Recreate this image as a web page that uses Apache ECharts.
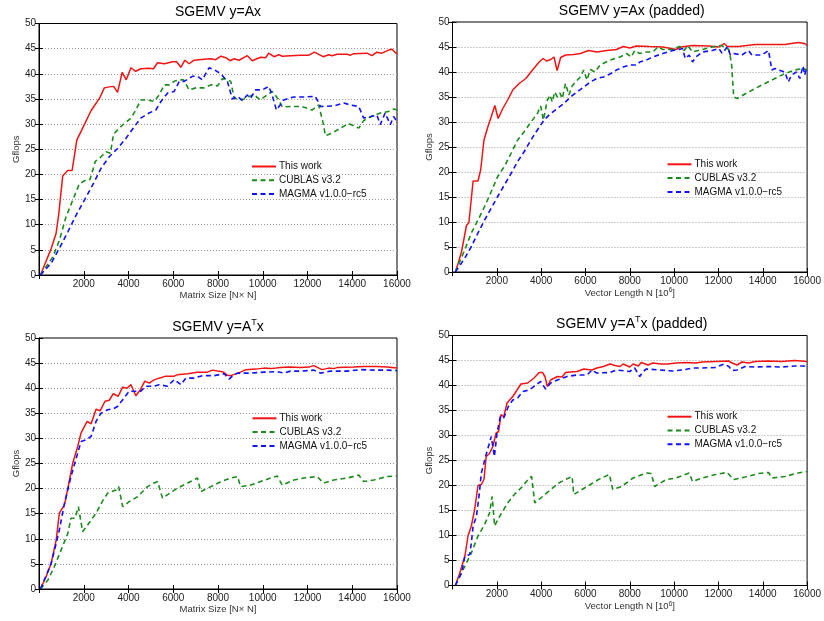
<!DOCTYPE html>
<html>
<head>
<meta charset="utf-8">
<script src="https://cdn.jsdelivr.net/npm/echarts@6/dist/echarts.min.js"></script>
<style>
html,body{margin:0;padding:0;background:#fff;}
#c{width:824px;height:621px;}
</style>
</head>
<body>
<div id="c"></div>
<script>
// ---------- DATA ----------
const seriesNames = ['This work', 'CUBLAS v3.2', 'MAGMA v1.0.0\u2212rc5'];
const xTicks = [0, 2000, 4000, 6000, 8000, 10000, 12000, 14000, 16000];
const yTicks = [0, 5, 10, 15, 20, 25, 30, 35, 40, 45, 50];

// Panel 1: SGEMV y=Ax
const ax_this = [[64,0],[540,5.2],[760,8.2],[880,12],[1060,19.7],[1280,20.8],[1480,20.8],[1690,26.8],[1950,29.2],[2330,32.7],[2700,35.1],[2920,37.2],[3140,37.4],[3340,37.5],[3510,36.3],[3720,40.3],[3900,38.8],[4110,41.2],[4320,40.5],[4550,41],[4920,41.1],[5120,41],[5300,42.2],[5600,42],[5970,42.4],[6150,42.4],[6340,41.3],[6520,42.7],[6710,42],[6930,42.7],[7380,42.9],[7680,43],[7900,42.8],[8130,43.5],[8350,43.2],[8540,42.6],[8720,43],[8940,42.7],[9310,43.6],[9530,42.6],[9900,43.3],[10130,43.2],[10270,44.1],[10500,43.4],[10720,43.8],[10870,43.5],[11240,43.6],[11690,43.7],[12060,43.7],[12310,44.3],[12700,43.4],[12950,43.8],[13100,43.6],[13320,43.9],[13770,43.9],[13920,43.7],[14070,44],[14660,44.1],[14880,43.6],[15100,44.3],[15330,44.1],[15670,44.8],[15780,44.9],[16000,43.9]];
const ax_cublas = [[64,0],[620,3.6],[910,6.9],[1210,11.6],[1510,14.9],[1800,18.1],[2100,18.9],[2280,19],[2520,22.6],[2770,23.5],[3000,24.5],[3190,24.2],[3330,28],[3590,29.2],[3810,30.1],[4110,31.2],[4330,32.8],[4550,34.8],[4850,34.8],[5150,34.5],[5370,35.8],[5600,37.8],[5820,37.8],[6040,38.5],[6270,38.8],[6460,38.8],[6710,36.8],[7010,37.2],[7380,37.2],[7680,37.8],[7980,37.6],[8200,39],[8350,39],[8570,38.5],[8720,35.2],[8940,34.8],[9160,35],[9380,35.5],[9610,35.8],[9900,34.8],[10200,35.8],[10420,36.5],[10720,34.8],[10870,33.4],[11240,33.5],[11760,33.5],[12200,32.8],[12500,33.8],[12700,30.2],[12800,27.7],[13100,28.2],[13470,29.2],[13840,30.1],[14290,29.2],[14510,30.7],[14810,31.4],[15250,32.2],[15620,32.5],[15850,33],[16000,32.8]];
const ax_magma = [[64,0],[540,2.3],[910,5.3],[1290,8.6],[1660,11.9],[2030,14.9],[2400,17.9],[2770,21.2],[3140,23.5],[3520,25.2],[3890,27.2],[4260,29.5],[4550,31.2],[4920,32.2],[5220,32.8],[5450,34.5],[5750,36.2],[6040,36.5],[6270,38.5],[6490,38.5],[6860,39.5],[7090,39.5],[7300,38.8],[7600,41.2],[7830,40.8],[8130,40],[8420,38.5],[8640,35],[8860,35.5],[9090,34.7],[9310,35.8],[9460,35.2],[9680,36.8],[9980,36.8],[10270,37.5],[10420,35.8],[10610,32.8],[10940,34.8],[11380,35.4],[11910,35.4],[12350,35.5],[12580,33.5],[13170,33.6],[13620,34.2],[13920,33.8],[14290,33.5],[14510,31.2],[14810,31.5],[15100,31.8],[15250,29.9],[15470,32.2],[15700,29.9],[15850,31.5],[16000,30.5]];

// Panel 2: SGEMV y=Ax (padded)
const pad_this = [[128,0],[260,1.8],[410,4.1],[480,4.5],[630,9.3],[740,9.9],[930,18.2],[1150,18.2],[1270,20.4],[1420,26.4],[1600,29.1],[1750,31.1],[1910,33.3],[2060,30.7],[2270,32.7],[2490,34.4],[2720,36.4],[3010,37.7],[3310,38.7],[3610,40.4],[3910,42],[4090,42.7],[4240,42.2],[4430,42.5],[4580,43],[4720,40.3],[4880,42.9],[5100,43.4],[5470,43.5],[5770,43.7],[6140,44.3],[6520,44],[6960,44.3],[7400,44.5],[7700,45.1],[8000,44.8],[8300,45.2],[8890,45.1],[9490,45],[10090,44.5],[10310,45],[10830,45.3],[11570,45.2],[12020,45],[12250,45.7],[12400,45.1],[12910,45.1],[13660,45.5],[14260,45.5],[15000,45.5],[15590,45.9],[15890,45.7],[16000,45.3]];
const pad_cublas = [[128,0],[560,4.5],[850,7.8],[1150,10.4],[1450,13.1],[1750,16.1],[2040,19.1],[2340,21.1],[2640,23.7],[2940,26.4],[3240,28.1],[3540,30],[3830,31.7],[3980,33.2],[4100,30.4],[4280,34.4],[4400,35.4],[4500,34],[4610,36],[4730,35],[4850,35.8],[4950,34.7],[5100,37.7],[5250,35.4],[5400,37.2],[5550,38],[5770,39],[5920,40.4],[6070,38.4],[6220,40.5],[6430,40],[6660,41.4],[7110,42.4],[7560,43],[7850,43.7],[8070,43],[8220,44.3],[8450,43.7],[8750,44],[9040,44],[9270,45],[9490,44.5],[9940,44.5],[10230,45.1],[10460,44.3],[10610,45.3],[10830,44],[11270,44.5],[11720,45],[12090,45.3],[12320,45],[12470,44.5],[12590,41.7],[12690,35],[12840,34.7],[13360,36],[13960,37.4],[14550,38.7],[15000,39.7],[15450,40.4],[15820,40.7],[16000,40.4]];
const pad_magma = [[128,0],[560,2.8],[850,5.1],[1150,7.8],[1450,10.4],[1750,12.8],[2040,15.1],[2340,17.4],[2640,19.7],[2940,22.1],[3240,24.1],[3540,26.4],[3830,28.4],[4130,30.4],[4430,31.7],[4730,32.7],[5030,33.7],[5320,35],[5620,36],[5920,37],[6220,38],[6510,38.7],[6810,39],[7110,39.6],[7400,40.4],[7700,41],[8000,41.4],[8300,41.4],[8450,42],[8750,42.4],[9040,43],[9490,43.7],[9940,44.3],[10230,44.5],[10380,44.7],[10500,42.7],[10680,43.4],[10830,42],[10980,43],[11270,44],[11720,44.3],[12020,44.7],[12170,43.7],[12400,45],[12540,43.4],[12690,43.7],[13060,43.4],[13360,44.3],[13510,43.4],[13960,43.4],[14260,44.3],[14410,40.4],[14550,40.7],[14700,40.4],[15000,40],[15150,38],[15300,39.4],[15520,40],[15670,38.7],[15820,41.2],[15890,39.4],[16000,41]];

// Panel 3: SGEMV y=A^T x
const t_this = [[64,0],[320,2.5],[540,5.1],[770,9.8],[910,15.1],[1140,16.8],[1290,20.1],[1510,25.1],[1730,28.4],[1880,31.1],[2150,33.4],[2330,32.9],[2550,35.8],[2730,35.5],[2950,37.4],[3140,37.6],[3320,38.9],[3540,38.4],[3740,40.2],[3930,40],[4110,40.7],[4330,38.5],[4530,39.7],[4730,41.4],[4930,41],[5120,41.6],[5370,42],[5670,42.4],[6040,42.4],[6190,42.7],[6640,42.9],[7080,43.2],[7530,43.2],[7750,43.6],[8200,43.3],[8420,42.6],[8570,42.5],[9010,43.2],[9240,43.7],[9680,43.8],[10060,44],[10350,43.9],[10800,44.1],[11170,44.2],[11690,44.1],[12060,44.2],[12280,44.5],[12650,43.7],[12950,44],[13170,43.9],[13320,44.1],[14070,44.2],[14510,44.3],[15100,44.3],[15550,44.2],[16000,44]];
const t_cublas = [[64,0],[400,1.8],[690,4.5],[990,7.8],[1290,11.1],[1430,14.1],[1610,14.1],[1760,16.4],[1950,11.4],[2180,12.8],[2550,15.1],[2850,17.6],[3070,19.1],[3440,19.7],[3560,20.4],[3740,16.4],[4030,17.4],[4410,18.4],[4850,20.4],[5150,21.1],[5300,21.4],[5520,18.1],[5750,18.8],[6190,20.1],[6640,21.1],[7080,22.1],[7230,19.4],[7680,20.4],[8130,21.4],[8570,22.1],[8870,22.4],[9010,20.4],[9460,20.7],[9900,21.4],[10350,22.1],[10650,22.5],[10870,20.7],[11390,21.7],[11840,22.1],[12430,22.4],[12500,22.6],[12720,21.1],[13170,21.7],[13770,22.1],[14290,22.7],[14510,21.4],[14960,21.7],[15550,22.4],[16000,22.5]];
const t_magma = [[64,0],[540,5],[770,9.1],[910,11.8],[1140,17.1],[1430,22.4],[1730,27.1],[1880,29.4],[2100,29.7],[2330,30.4],[2550,33.4],[2770,35],[3070,35.7],[3370,36],[3520,36.4],[3740,37.7],[4030,39.4],[4330,39.4],[4550,39.4],[4770,40.4],[5150,40.4],[5370,40.7],[5750,40.4],[6040,41.7],[6340,40.7],[6560,42],[6930,42],[7300,42.5],[7830,42.5],[8280,42.9],[8500,41.8],[8640,42.4],[8870,43],[9380,43],[10060,43.2],[10650,43.3],[10940,43],[11240,43.4],[11690,43.4],[12280,43.6],[12580,43],[13020,43.4],[13770,43.4],[14360,43.7],[14960,43.6],[15550,43.6],[16000,43.5]];

// Panel 4: SGEMV y=A^T x (padded)
const tpad_this = [[128,0],[330,2.5],[560,5.9],[700,9.9],[850,11.9],[1000,15.2],[1150,20],[1300,20.2],[1420,21.2],[1520,25.8],[1670,26.4],[1820,27.8],[1970,30.5],[2080,30.8],[2190,34.2],[2310,33.7],[2460,36.5],[2720,37.8],[2940,39.3],[3090,40.3],[3390,40.5],[3680,41.5],[3910,42.6],[4060,42.6],[4170,41.8],[4280,39.8],[4430,41.1],[4730,41.8],[4950,41.7],[5100,42.6],[5320,42.7],[5620,42.8],[5920,43.3],[6290,43.1],[6510,43.5],[6810,43.8],[7110,44.3],[7330,44],[7560,43.8],[7700,44.3],[8000,43.7],[8150,44.3],[8380,43.9],[8520,44.6],[8820,44.1],[9040,44.5],[9410,44.3],[9710,44.3],[10090,44.5],[10540,44.6],[10980,44.5],[11270,44.7],[11870,44.8],[12460,44.9],[12610,44.5],[12840,44.1],[13060,44.7],[13360,44.5],[13660,44.8],[14260,44.9],[14850,44.8],[15450,45],[16000,44.8]];
const tpad_cublas = [[128,0],[330,1.9],[630,4.5],[850,6.5],[1150,9.9],[1450,12.2],[1670,14.5],[1790,17.8],[1900,11.9],[2120,13.8],[2490,16.5],[2790,18.2],[3160,19.8],[3460,21.5],[3570,21.8],[3710,16.5],[4060,17.8],[4430,19.2],[4800,20.5],[5100,21.2],[5400,21.8],[5470,18.2],[5840,19.2],[6220,20.2],[6590,21.2],[7080,22.2],[7230,19.2],[7630,19.8],[8150,21.5],[8750,22.5],[8970,22.4],[9120,19.8],[9640,21.2],[10090,21.5],[10680,22.5],[10830,20.8],[11270,21.5],[11870,22.2],[12390,22.6],[12690,21.2],[13210,21.7],[13810,22.4],[14260,22.6],[14410,21.5],[15000,21.8],[15590,22.5],[16000,22.8]];
const tpad_magma = [[128,0],[410,2.5],[560,5.9],[780,6.2],[850,8.5],[930,11.9],[1080,13.8],[1220,18.8],[1300,22.5],[1370,22.2],[1520,26.2],[1750,29.8],[1890,25.8],[2010,30.5],[2160,33.8],[2310,33.5],[2520,35.8],[2720,37.1],[2940,37.5],[3160,38.8],[3460,39.1],[3760,40.1],[3980,40.8],[4200,39.3],[4430,40.5],[4730,41.1],[5170,41.8],[5620,42.1],[6070,42.1],[6290,43.1],[6510,42.5],[7110,42.6],[7400,43.1],[8000,42.8],[8220,43.5],[8450,41.8],[8600,42.8],[8750,43.3],[9340,43.1],[9940,42.9],[10380,43.1],[10830,43.5],[11270,43.5],[11870,43.6],[12250,44.3],[12470,43.8],[12610,43],[12840,43.1],[13210,43.8],[13660,43.7],[14260,43.8],[14850,43.7],[15450,43.9],[16000,43.9]];

// ---------- LAYOUT / STYLE ----------
const FONT = 'Liberation Sans, Arial, Helvetica, sans-serif';
const panels = [
  {title:'{a|SGEMV y=Ax}', xname:'{a|Matrix Size [N\u00d7 N]}', data:[ax_this, ax_cublas, ax_magma], left:39, top:23.5, width:358, height:251.5, legLeft:251, legTop:161.5},
  {title:'{a|SGEMV y=Ax (padded)}', xname:'{a|Vector Length N [10}{s|6}{a|]}', data:[pad_this, pad_cublas, pad_magma], left:452.5, top:22, width:358.5, height:250, legLeft:666.5, legTop:159.3},
  {title:'{a|SGEMV y=A}{s|T}{a|x}', xname:'{a|Matrix Size [N\u00d7 N]}', data:[t_this, t_cublas, t_magma], left:39, top:338, width:358, height:251, legLeft:251.5, legTop:413.3},
  {title:'{a|SGEMV y=A}{s|T}{a|x (padded)}', xname:'{a|Vector Length N [10}{s|6}{a|]}', data:[tpad_this, tpad_cublas, tpad_magma], left:452.5, top:335.5, width:358.5, height:250, legLeft:666.5, legTop:411.7}
];
const colors = ['#f01414', '#1c8a1c', '#1010ff'];
const dash = [5, 3.5];

const grid = [], xAxis = [], yAxis = [], series = [], title = [], legend = [];
panels.forEach((p, i) => {
  grid.push({left:p.left, top:p.top, width:p.width, height:p.height, show:true, borderColor:'#000', borderWidth:1, backgroundColor:'#fff'});
  title.push({
    text:p.title, left:p.left + p.width/2, textAlign:'center', top:p.top - 20, padding:0,
    textStyle:{fontWeight:'normal', rich:{
      a:{fontFamily:FONT, fontSize:14, fontWeight:'normal', color:'#000', lineHeight:18},
      s:{fontFamily:FONT, fontSize:9, fontWeight:'normal', color:'#000', verticalAlign:'top'}
    }}
  });
  const tickStyle = {show:true, inside:true, length:4, lineStyle:{color:'#000', width:1}};
  xAxis.push({
    type:'value', gridIndex:i, position:'bottom', min:xTicks[0], max:xTicks[xTicks.length-1], interval:2000, z:3,
    axisLine:{show:true, lineStyle:{color:'#000', width:1}}, axisTick:tickStyle,
    axisLabel:{show:true, showMinLabel:false, margin:4, fontFamily:FONT, fontSize:10, color:'#222', formatter:v => String(v)},
    splitLine:{show:false},
    name:p.xname, nameLocation:'middle', nameGap:13,
    nameTextStyle:{rich:{
      a:{fontFamily:FONT, fontSize:9.5, color:'#333', lineHeight:12},
      s:{fontFamily:FONT, fontSize:6.5, color:'#333', verticalAlign:'top'}
    }}
  });
  xAxis.push({
    type:'value', gridIndex:i, position:'top', min:xTicks[0], max:xTicks[xTicks.length-1], interval:2000, z:3,
    axisLine:{show:true, lineStyle:{color:'#000', width:1}}, axisTick:tickStyle,
    axisLabel:{show:false}, splitLine:{show:false}
  });
  yAxis.push({
    type:'value', gridIndex:i, position:'left', min:yTicks[0], max:yTicks[yTicks.length-1], interval:5, z:0,
    axisLine:{show:true, lineStyle:{color:'#000', width:1}}, axisTick:tickStyle,
    axisLabel:{show:true, margin:3, fontFamily:FONT, fontSize:10, color:'#222', formatter:v => String(v)},
    splitLine:{show:true, showMinLine:false, showMaxLine:false, lineStyle:{color:'#9a9a9a', width:1, type:[1,2]}},
    name:'Gflops', nameLocation:'middle', nameGap:17, nameRotate:90,
    nameTextStyle:{fontFamily:FONT, fontSize:9.5, color:'#333'}
  });
  yAxis.push({
    type:'value', gridIndex:i, position:'right', min:yTicks[0], max:yTicks[yTicks.length-1], interval:5, z:3,
    axisLine:{show:true, lineStyle:{color:'#000', width:1}}, axisTick:tickStyle,
    axisLabel:{show:false}, splitLine:{show:false}
  });
  p.data.forEach((d, k) => {
    series.push({
      name:seriesNames[k], type:'line', xAxisIndex:2*i, yAxisIndex:2*i, data:d,
      symbol:'none', showSymbol:false, animation:false, z:2,
      lineStyle:{color:colors[k], width:k===0 ? 1.5 : 1.6, type:k===0 ? 'solid' : dash},
      itemStyle:{color:colors[k]}
    });
  });
  legend.push({
    orient:'vertical', left:p.legLeft, top:p.legTop, padding:0,
    itemWidth:24, itemHeight:10, itemGap:3.8, selectedMode:false,
    itemStyle:{opacity:0, color:'rgba(0,0,0,0)', borderWidth:0},
    data:seriesNames,
    textStyle:{fontFamily:FONT, fontSize:10, color:'#111', lineHeight:10, padding:[0,0,0,-2]}
  });
});

const chart = echarts.init(document.getElementById('c'), null, {renderer:'canvas'});
chart.setOption({
  backgroundColor:'#fff',
  animation:false,
  title, legend, grid, xAxis, yAxis, series
});
</script>
</body>
</html>
